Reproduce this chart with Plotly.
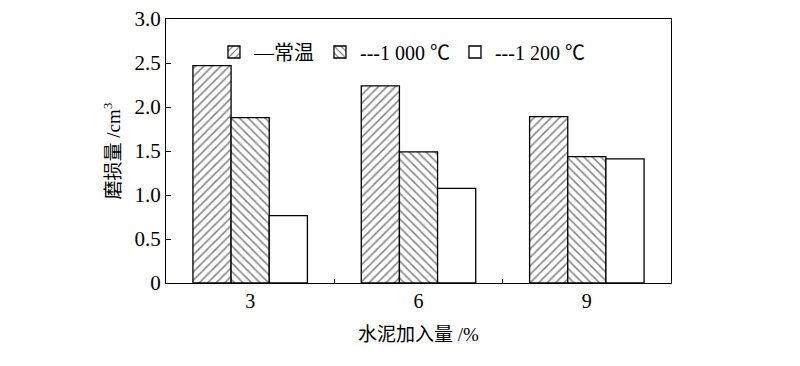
import plotly.graph_objects as go

categories = ["3", "6", "9"]
series_names = ["—常温", "---1 000 ℃", "---1 200 ℃"]
room_temp = [2.47, 2.24, 1.89]
t1000 = [1.88, 1.49, 1.435]
t1200 = [0.765, 1.076, 1.41]
y_tickvals = [0, 0.5, 1.0, 1.5, 2.0, 2.5, 3.0]
y_ticktext = ["0", "0.5", "1.0", "1.5", "2.0", "2.5", "3.0"]

FONT = "'Liberation Serif', 'Times New Roman', 'Noto Sans CJK SC', serif"

patterns = [
    dict(shape="/", size=6, solidity=0.25, fgcolor="black", bgcolor="white"),
    dict(shape="\\", size=6, solidity=0.25, fgcolor="black", bgcolor="white"),
    dict(shape="", bgcolor="white"),
]
values = [room_temp, t1000, t1200]

fig = go.Figure()
for name, vals, pat in zip(series_names, values, patterns):
    fig.add_trace(go.Bar(
        x=categories, y=vals, name=name,
        marker=dict(color="white", pattern=pat, line=dict(color="black", width=1.3)),
    ))

# page body has an 8px margin; compensate so the plot sits where the reference has it
fig.update_layout(
    width=784, height=350,
    margin=dict(l=158, r=121, t=11, b=75),
    paper_bgcolor="white", plot_bgcolor="white",
    barmode="group", bargap=0.32, bargroupgap=0,
    font=dict(family=FONT, size=20, color="black"),
    showlegend=True,
    legend=dict(
        orientation="h", x=0.095, y=0.875, xanchor="left", yanchor="middle",
        bgcolor="rgba(0,0,0,0)", font=dict(size=20, family=FONT, color="black"),
        itemwidth=30, tracegroupgap=0,
    ),
    xaxis=dict(
        type="category", range=[-0.5, 2.5], automargin=False,
        showline=True, linecolor="black", linewidth=1.3, mirror=True,
        ticks="inside", tickson="boundaries", ticklen=4, tickcolor="black",
        showgrid=False, zeroline=False,
        tickfont=dict(size=20, family=FONT, color="black"),
        title=dict(text="水泥加入量 /%", font=dict(size=19, family=FONT, color="black"), standoff=16),
    ),
    yaxis=dict(
        range=[0, 3.0], tickvals=y_tickvals, ticktext=y_ticktext, automargin=False,
        ticklabeloverflow="allow",
        showline=True, linecolor="black", linewidth=1.3, mirror=True,
        ticks="inside", ticklen=5, tickcolor="black",
        showgrid=False, zeroline=False,
        tickfont=dict(size=21, family=FONT, color="black"),
        title=dict(text="磨损量 /cm<sup>3</sup>", font=dict(size=19, family=FONT, color="black"), standoff=8),
    ),
)

fig.write_html("out.html")
